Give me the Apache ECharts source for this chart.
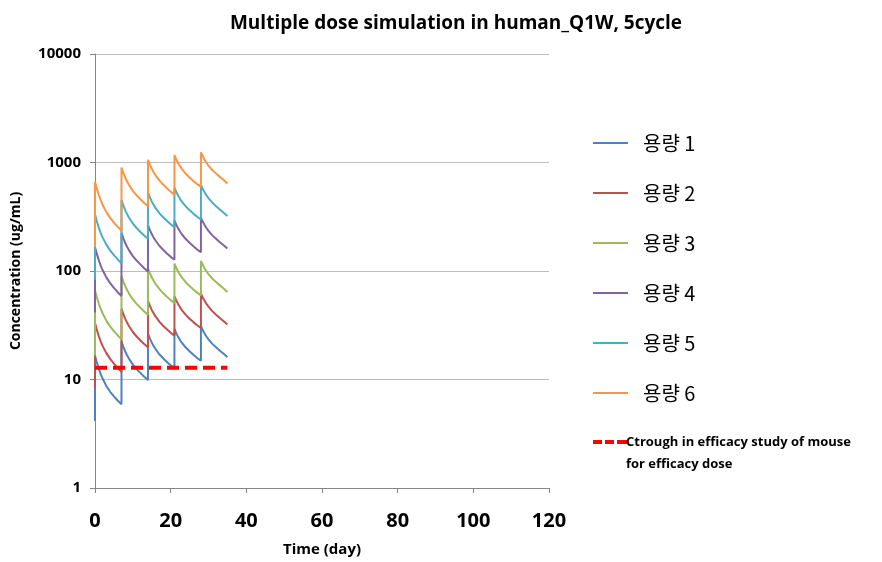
<!DOCTYPE html>
<html>
<head>
<meta charset="utf-8">
<script src="https://cdn.jsdelivr.net/npm/echarts@6/dist/echarts.min.js"></script>
<style>
html,body{margin:0;padding:0;background:#fff;}
#chart{width:882px;height:562px;}
</style>
</head>
<body>
<div id="chart"></div>
<script>
// Time points (day)
const days = [
  0, 0, 0.5, 1, 1.5, 2, 3, 4, 5, 6, 7,
  7, 7.5, 8, 8.5, 9, 10, 11, 12, 13, 14,
  14, 14.5, 15, 15.5, 16, 17, 18, 19, 20, 21,
  21, 21.5, 22, 22.5, 23, 24, 25, 26, 27, 28,
  28, 28.5, 29, 29.5, 30, 31, 32, 33, 34, 35
];
const seriesNames = ['용량 1', '용량 2', '용량 3', '용량 4', '용량 5', '용량 6'];
const dose1 = [4.15,
  16.6, 14.3, 12.6, 11.2, 10.2, 8.7, 7.7, 7.0, 6.4, 5.9,
  22.5, 20.0, 18.1, 16.6, 15.5, 13.7, 12.5, 11.5, 10.6, 9.9,
  26.5, 23.9, 21.9, 20.3, 19.1, 17.1, 15.7, 14.5, 13.5, 12.7,
  29.3, 26.6, 24.6, 23.0, 21.7, 19.7, 18.2, 16.9, 15.8, 14.9,
  31.0, 28.4, 26.4, 24.8, 23.4, 21.3, 19.8, 18.4, 17.3, 16.1];
const dose2 = [8.3,
  33.3, 28.6, 25.1, 22.5, 20.4, 17.5, 15.5, 14.0, 12.8, 11.8,
  45.0, 40.0, 36.2, 33.3, 31.0, 27.4, 24.9, 22.9, 21.2, 19.8,
  53.0, 47.8, 43.8, 40.7, 38.1, 34.2, 31.3, 29.0, 27.0, 25.3,
  58.6, 53.3, 49.3, 46.0, 43.4, 39.4, 36.3, 33.8, 31.6, 29.8,
  62.0, 56.8, 52.8, 49.5, 46.9, 42.7, 39.5, 36.9, 34.5, 32.1];
const dose3 = [16.6,
  66.5, 57.1, 50.2, 44.9, 40.8, 34.9, 30.9, 27.9, 25.5, 23.5,
  90.0, 80.0, 72.4, 66.5, 61.9, 54.8, 49.8, 45.8, 42.4, 39.5,
  106, 95.5, 87.6, 81.3, 76.2, 68.4, 62.6, 57.9, 53.9, 50.6,
  117, 106.5, 98.5, 92.0, 86.8, 78.7, 72.6, 67.6, 63.2, 59.6,
  124, 113.6, 105.5, 99.0, 93.7, 85.3, 79.0, 73.7, 69.0, 64.2];
const dose4 = [41.5,
  166, 143, 126, 112, 102, 87.3, 77.3, 69.8, 63.8, 58.8,
  225, 200, 181, 166, 155, 137, 125, 115, 106, 98.8,
  265, 239, 219, 203, 191, 171, 157, 145, 135, 127,
  293, 266, 246, 230, 217, 197, 182, 169, 158, 149,
  310, 284, 264, 248, 234, 213, 198, 184, 173, 161];
const dose5 = [83,
  333, 286, 251, 225, 204, 175, 155, 140, 128, 118,
  450, 400, 362, 333, 310, 274, 249, 229, 212, 198,
  530, 478, 438, 407, 381, 342, 313, 290, 270, 253,
  586, 533, 493, 460, 434, 394, 363, 338, 316, 298,
  620, 568, 528, 495, 469, 427, 395, 369, 345, 321];
const dose6 = [166,
  665, 571, 502, 449, 408, 349, 309, 279, 255, 235,
  900, 800, 724, 665, 619, 548, 498, 458, 424, 395,
  1060, 955, 876, 813, 762, 684, 626, 579, 539, 506,
  1171, 1065, 985, 920, 868, 787, 726, 676, 632, 596,
  1240, 1136, 1055, 990, 937, 853, 790, 737, 690, 642];
const troughName = 'Ctrough in efficacy study of mouse\nfor efficacy dose';
const troughDays = [0, 35];
const troughValues = [12.8, 12.8];
const xTicks = [0, 20, 40, 60, 80, 100, 120];
const yTicks = [1, 10, 100, 1000, 10000];
const colors = ['#4F81BD', '#C0504D', '#9BBB59', '#8064A2', '#4BACC6', '#F79646'];

const allDoses = [dose1, dose2, dose3, dose4, dose5, dose6];
const series = allDoses.map((vals, i) => ({
  name: seriesNames[i],
  type: 'line',
  showSymbol: false,
  symbol: 'none',
  data: days.map((d, j) => [d, vals[j]]),
  lineStyle: {color: colors[i], width: 2},
  itemStyle: {color: colors[i]},
  z: 3
}));
series.push({
  name: troughName,
  type: 'line',
  symbol: 'none',
  data: troughDays.map((d, j) => [d, troughValues[j]]),
  lineStyle: {color: '#FF0000', width: 4, type: [12, 6]},
  itemStyle: {color: '#FF0000'},
  z: 4
});

const chart = echarts.init(document.getElementById('chart'));
chart.setOption({
  animation: false,
  backgroundColor: '#fff',
  title: {
    text: 'Multiple dose simulation in human_Q1W, 5cycle',
    left: 451, top: 9, textAlign: 'center',
    textStyle: {fontFamily: 'Open Sans', fontWeight: 'bold', fontSize: 19, color: '#000'}
  },
  legend: [{
    data: seriesNames,
    orient: 'vertical',
    left: 588, top: 128,
    itemWidth: 35, itemHeight: 14,
    itemGap: 30,
    textStyle: {fontFamily: 'Noto Sans CJK KR', fontSize: 20, color: '#000', padding: [0, 0, 0, 10]},
    icon: 'path://M0,6 L35,6 L35,8 L0,8 Z'
  }, {
    data: [{name: troughName, icon: 'path://M0,0 L9,0 L9,4 L0,4 Z M12,0 L21,0 L21,4 L12,4 Z M24,0 L34,0 L34,4 L24,4 Z M0,26 L0.01,26 L0,26.01 Z', itemStyle: {color: '#FF0000'}}],
    orient: 'vertical',
    left: 588, top: 426,
    itemWidth: 34, itemHeight: 26,
    itemGap: 2,
    textStyle: {fontFamily: 'Open Sans', fontWeight: 'bold', fontSize: 13, color: '#000', lineHeight: 22, padding: [0, 0, 0, -6]}
  }],
  grid: {left: 95, right: 333, top: 54, bottom: 74},
  xAxis: {
    type: 'value', min: 0, max: 120, interval: 20,
    name: 'Time (day)', nameLocation: 'middle', nameGap: 54,
    nameTextStyle: {fontFamily: 'Open Sans', fontWeight: 'bold', fontSize: 15, color: '#000'},
    axisLine: {show: true, lineStyle: {color: '#868686', width: 1}},
    axisTick: {show: true, length: 5, inside: false, lineStyle: {color: '#868686'}},
    axisLabel: {fontFamily: 'Open Sans', fontWeight: 'bold', fontSize: 20, color: '#000', margin: 23,
      formatter: v => xTicks.includes(v) ? String(v) : ''},
    splitLine: {show: false}
  },
  yAxis: {
    type: 'log', logBase: 10, min: 1, max: 10000,
    name: 'Concentration (ug/mL)', nameLocation: 'middle', nameGap: 72, nameRotate: 90,
    nameTextStyle: {fontFamily: 'Open Sans', fontWeight: 'bold', fontSize: 14, color: '#000'},
    axisLine: {show: true, lineStyle: {color: '#868686', width: 1}},
    axisTick: {show: true, length: 5, lineStyle: {color: '#868686'}},
    axisLabel: {fontFamily: 'Open Sans', fontWeight: 'bold', fontSize: 15, color: '#000', margin: 14,
      formatter: v => yTicks.includes(Math.round(v)) ? String(Math.round(v)) : ''},
    splitLine: {show: true, lineStyle: {color: '#BEBEBE', width: 1}}
  },
  series: series
});
</script>
</body>
</html>
